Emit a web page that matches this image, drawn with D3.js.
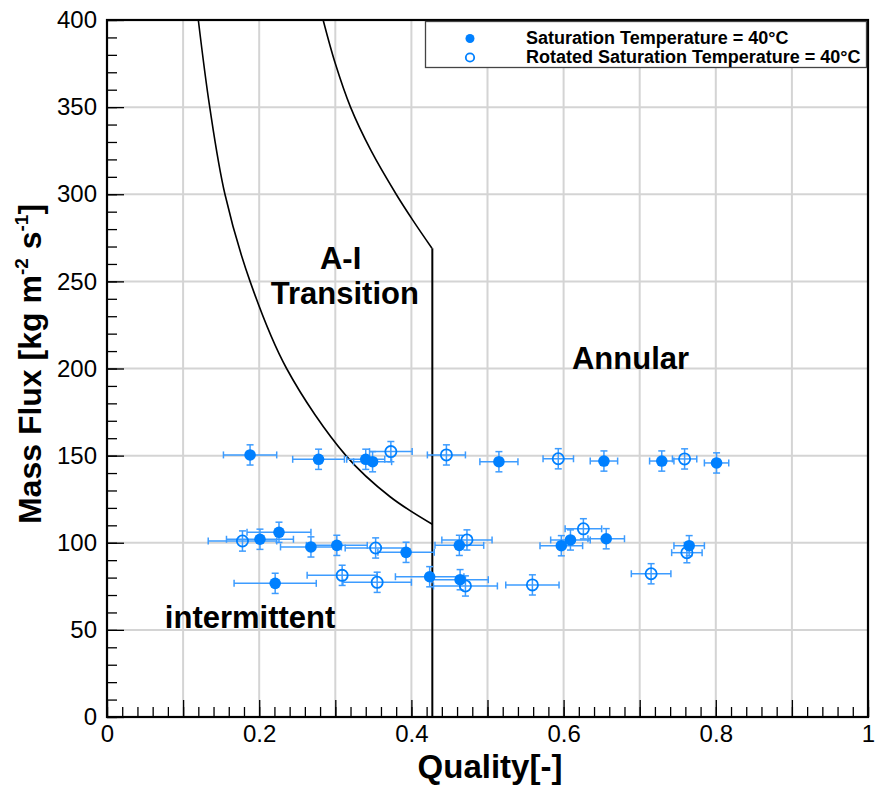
<!DOCTYPE html>
<html>
<head>
<meta charset="utf-8">
<script src="https://cdn.jsdelivr.net/npm/d3@7"></script>
<style>
  html, body { margin: 0; padding: 0; background: #fff; }
  svg { display: block; }
  text { font-family: "Liberation Sans", Arial, sans-serif; }
</style>
</head>
<body>
<svg id="chart" width="875" height="785"></svg>
<script>
// ---------------- data ----------------
// Saturation Temperature = 40°C (filled)
const satQuality = [0.188, 0.278, 0.340, 0.349, 0.515, 0.653, 0.729, 0.801,
                    0.201, 0.226, 0.268, 0.302, 0.393, 0.463, 0.597, 0.609, 0.656, 0.765,
                    0.221, 0.424, 0.464];
const satFlux    = [150.4, 147.9, 147.9, 146.5, 146.5, 146.9, 146.9, 145.8,
                    102.0, 106.0, 97.6, 98.5, 94.5, 98.5, 98.3, 101.6, 102.3, 98.3,
                    76.7, 80.5, 78.8];
const satQErr    = [0.035, 0.034, 0.025, 0.025, 0.025, 0.018, 0.016, 0.016,
                    0.044, 0.042, 0.040, 0.040, 0.037, 0.032, 0.028, 0.026, 0.024, 0.020,
                    0.054, 0.045, 0.037];
const satFluxErr = [5.8, 5.8, 5.8, 5.8, 5.8, 5.8, 5.8, 5.8,
                    5.8, 5.8, 5.8, 5.8, 5.8, 5.8, 5.8, 5.8, 5.8, 5.8,
                    5.8, 5.8, 5.8];

// Rotated Saturation Temperature = 40°C (open)
const rotQuality = [0.373, 0.446, 0.593, 0.759,
                    0.178, 0.353, 0.473, 0.626, 0.762,
                    0.309, 0.355, 0.471, 0.559, 0.715];
const rotFlux    = [152.3, 150.4, 148.2, 148.1,
                    101.0, 97.0, 101.6, 108.0, 94.3,
                    81.3, 77.3, 75.2, 75.8, 82.2];
const rotQErr    = [0.028, 0.025, 0.020, 0.016,
                    0.045, 0.040, 0.033, 0.024, 0.020,
                    0.046, 0.045, 0.042, 0.035, 0.026];
const rotFluxErr = [5.8, 5.8, 5.8, 5.8,
                    5.8, 5.8, 5.8, 5.8, 5.8,
                    5.8, 5.8, 5.8, 5.8, 5.8];

// Flow regime boundaries
const lowerCurveQ = [0.120, 0.135, 0.155, 0.188, 0.236, 0.314, 0.372, 0.428];
const lowerCurveG = [400, 350, 300, 250, 200, 150, 126.4, 110.5];
const upperCurveQ = [0.284, 0.300, 0.320, 0.347, 0.380, 0.402, 0.427];
const upperCurveG = [400, 375, 350, 325, 300, 285, 269];
const boundaryQ   = [0.4275, 0.4275];
const boundaryG   = [269, 0];

const xTickLabels = ["0", "0.2", "0.4", "0.6", "0.8", "1"];
const yTickLabels = ["0", "50", "100", "150", "200", "250", "300", "350", "400"];
const legendLabels = ["Saturation Temperature = 40°C", "Rotated Saturation Temperature = 40°C"];
const regionLabels = ["A-I", "Transition", "Annular", "intermittent"];

// ---------------- drawing ----------------
const svg = d3.select("#chart");
const L = 107, R = 868, T = 20, B = 717;
const x = d3.scaleLinear().domain([0, 1]).range([L, R]);
const y = d3.scaleLinear().domain([0, 400]).range([B, T]);
const blue = "#0080ff", errBlue = "#3d9cff";

// grid
const gx = d3.range(1, 10).map(i => i / 10);
const gy = d3.range(1, 8).map(i => i * 50);
svg.append("g").selectAll("line").data(gx).join("line")
  .attr("x1", d => x(d)).attr("x2", d => x(d)).attr("y1", T).attr("y2", B)
  .attr("stroke", "#d4d4d4").attr("stroke-width", 2);
svg.append("g").selectAll("line").data(gy).join("line")
  .attr("y1", d => y(d)).attr("y2", d => y(d)).attr("x1", L).attr("x2", R)
  .attr("stroke", "#d4d4d4").attr("stroke-width", 2);

// boundaries
const line = d3.line().x(d => x(d[0])).y(d => y(d[1])).curve(d3.curveCatmullRom);
svg.append("path").datum(lowerCurveQ.map((q, i) => [q, lowerCurveG[i]]))
  .attr("d", line).attr("fill", "none").attr("stroke", "#000").attr("stroke-width", 1.6);
svg.append("path").datum(upperCurveQ.map((q, i) => [q, upperCurveG[i]]))
  .attr("d", line).attr("fill", "none").attr("stroke", "#000").attr("stroke-width", 1.6);
svg.append("path").datum(boundaryQ.map((q, i) => [q, boundaryG[i]]))
  .attr("d", d3.line().x(d => x(d[0])).y(d => y(d[1])))
  .attr("fill", "none").attr("stroke", "#000").attr("stroke-width", 2);

// region labels
const lab = svg.append("g").attr("font-weight", "bold").attr("font-size", 31).attr("fill", "#000");
lab.append("text").attr("x", x(0.307)).attr("y", y(257)).attr("text-anchor", "middle").text(regionLabels[0]);
lab.append("text").attr("x", x(0.3125)).attr("y", y(237)).attr("text-anchor", "middle").text(regionLabels[1]);
lab.append("text").attr("x", x(0.611)).attr("y", y(200)).attr("text-anchor", "start").text(regionLabels[2]);
lab.append("text").attr("x", x(0.076)).attr("y", y(51)).attr("text-anchor", "start").text(regionLabels[3]);

// data
const sat = satQuality.map((q, i) => ({ q, g: satFlux[i], eq: satQErr[i], eg: satFluxErr[i] }));
const rot = rotQuality.map((q, i) => ({ q, g: rotFlux[i], eq: rotQErr[i], eg: rotFluxErr[i] }));
const cap = 3.5;
function errorBars(data) {
  const g = svg.append("g").attr("stroke", errBlue).attr("stroke-width", 1.5).attr("fill", "none");
  data.forEach(d => {
    const cx = x(d.q), cy = y(d.g);
    const x0 = x(d.q - d.eq), x1 = x(d.q + d.eq), y0 = y(d.g - d.eg), y1 = y(d.g + d.eg);
    g.append("line").attr("x1", x0).attr("x2", x1).attr("y1", cy).attr("y2", cy);
    g.append("line").attr("x1", x0).attr("x2", x0).attr("y1", cy - cap).attr("y2", cy + cap);
    g.append("line").attr("x1", x1).attr("x2", x1).attr("y1", cy - cap).attr("y2", cy + cap);
    g.append("line").attr("x1", cx).attr("x2", cx).attr("y1", y0).attr("y2", y1);
    g.append("line").attr("x1", cx - cap).attr("x2", cx + cap).attr("y1", y0).attr("y2", y0);
    g.append("line").attr("x1", cx - cap).attr("x2", cx + cap).attr("y1", y1).attr("y2", y1);
  });
}
errorBars(sat);
errorBars(rot);
svg.append("g").selectAll("circle").data(sat).join("circle")
  .attr("cx", d => x(d.q)).attr("cy", d => y(d.g)).attr("r", 5.8).attr("fill", blue);
svg.append("g").selectAll("circle").data(rot).join("circle")
  .attr("cx", d => x(d.q)).attr("cy", d => y(d.g)).attr("r", 5.6)
  .attr("fill", "none").attr("stroke", blue).attr("stroke-width", 1.8);

// axes
const xMinor = d3.axisBottom(x).tickValues(d3.range(0, 51).map(i => i / 50)).tickSize(-10).tickFormat("");
const xMajor = d3.axisBottom(x).tickValues(d3.range(0, 11).map(i => i / 10)).tickSize(-17).tickPadding(8)
  .tickFormat((d, i) => i % 2 === 0 ? xTickLabels[i / 2] : "");
const yMinor = d3.axisLeft(y).tickValues(d3.range(0, 41).map(i => i * 10)).tickSize(-10).tickFormat("");
const yMajor = d3.axisLeft(y).tickValues(d3.range(0, 9).map(i => i * 50)).tickSize(-17).tickPadding(10)
  .tickFormat((d, i) => yTickLabels[i]);
function styleAxis(g) {
  g.select(".domain").remove();
  g.selectAll(".tick line").attr("stroke", "#000").attr("stroke-width", 1.3);
  g.selectAll(".tick text").attr("font-size", 24).attr("fill", "#000")
    .attr("font-family", "'Liberation Sans', Arial, sans-serif");
}
svg.append("g").attr("transform", `translate(0,${B})`).call(xMinor).call(styleAxis);
svg.append("g").attr("transform", `translate(0,${B})`).call(xMajor).call(styleAxis);
svg.append("g").attr("transform", `translate(${L},0)`).call(yMinor).call(styleAxis);
svg.append("g").attr("transform", `translate(${L},0)`).call(yMajor).call(styleAxis);

// frame
svg.append("rect").attr("x", L).attr("y", T).attr("width", R - L).attr("height", B - T)
  .attr("fill", "none").attr("stroke", "#000").attr("stroke-width", 2.2);

// axis titles
svg.append("text").attr("x", 490).attr("y", 778).attr("text-anchor", "middle")
  .attr("font-weight", "bold").attr("font-size", 33).text("Quality[-]");
const yt = svg.append("text").attr("transform", "translate(41,364) rotate(-90)")
  .attr("text-anchor", "middle").attr("font-weight", "bold").attr("font-size", 32);
yt.append("tspan").text("Mass Flux [kg m");
yt.append("tspan").attr("font-size", 19).attr("dy", -13).text("-2");
yt.append("tspan").attr("dy", 13).text(" s");
yt.append("tspan").attr("font-size", 19).attr("dy", -13).text("-1");
yt.append("tspan").attr("dy", 13).text("]");

// legend
const lg = svg.append("g");
lg.append("rect").attr("x", 425.5).attr("y", 21.5).attr("width", 441).attr("height", 46)
  .attr("fill", "#fff").attr("stroke", "#444").attr("stroke-width", 1.3);
lg.append("circle").attr("cx", 470).attr("cy", 38.5).attr("r", 4.5).attr("fill", blue);
lg.append("circle").attr("cx", 470).attr("cy", 57.5).attr("r", 4.2).attr("fill", "none")
  .attr("stroke", blue).attr("stroke-width", 1.8);
lg.append("text").attr("x", 526).attr("y", 44).attr("font-weight", "bold").attr("font-size", 18).text(legendLabels[0]);
lg.append("text").attr("x", 526).attr("y", 63).attr("font-weight", "bold").attr("font-size", 18).text(legendLabels[1]);
</script>
</body>
</html>
